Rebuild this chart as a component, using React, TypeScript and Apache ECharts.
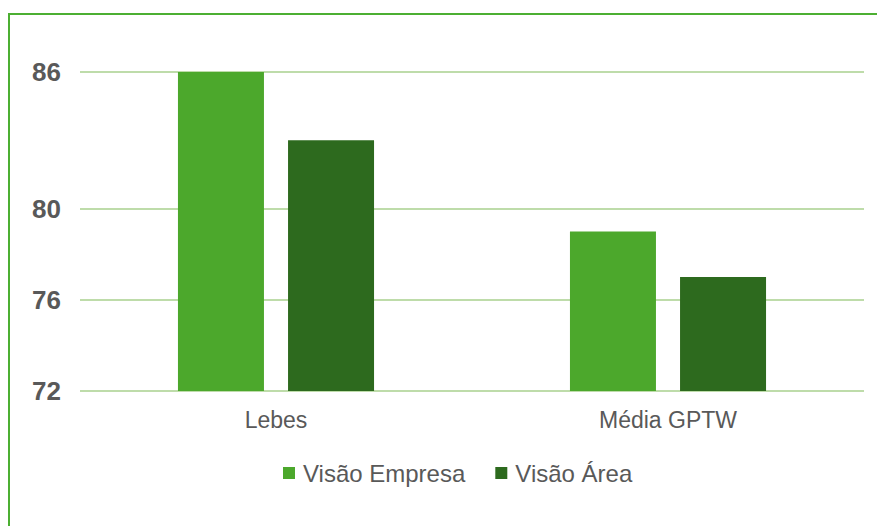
import React, { useEffect, useRef } from "react";
import * as echarts from "echarts";

const categories = ["Lebes", "Média GPTW"];
const empresaValues = [86, 79];
const areaValues = [83, 77];
const yTicks = [72, 76, 80, 86];
const seriesNames = ["Visão Empresa", "Visão Área"];

const LIGHT = "#4ca82c";
const DARK = "#2d6a1e";
const GRID = "#a9d18e";
const TEXT = "#595959";
const FONT = "'Liberation Sans', Arial, sans-serif";

export default function App() {
  const ref = useRef<HTMLDivElement>(null);
  useEffect(() => {
    if (!ref.current) return;
    const chart = echarts.init(ref.current, null, { renderer: "svg" });
    chart.setOption({
      animation: false,
      backgroundColor: "#ffffff",
      textStyle: { fontFamily: FONT },
      graphic: [
        {
          type: "rect",
          shape: { x: 9, y: 14, width: 1000, height: 1000 },
          style: { fill: "none", stroke: "#4caf32", lineWidth: 2 },
          silent: true,
          z: 0,
        },
      ],
      grid: { left: 80, right: 13, top: 72, bottom: 135, containLabel: false },
      legend: {
        data: seriesNames,
        top: 456,
        left: 278,
        itemWidth: 12,
        itemHeight: 12,
        itemGap: 30,
        icon: "rect",
        textStyle: { fontSize: 24, color: TEXT, fontFamily: FONT, padding: [0, 0, 0, 3] },
      },
      xAxis: {
        type: "category",
        data: categories,
        axisLine: { show: false },
        axisTick: { show: false },
        axisLabel: { fontSize: 23, color: TEXT, margin: 17, fontFamily: FONT },
      },
      yAxis: {
        type: "value",
        min: 72,
        max: 86,
        axisLine: { show: false },
        axisTick: { show: false },
        splitLine: { show: false },
        axisLabel: {
          customValues: yTicks,
          fontSize: 26,
          fontWeight: "bold",
          color: TEXT,
          margin: 19,
          fontFamily: FONT,
        },
      },
      series: [
        {
          name: seriesNames[0],
          type: "bar",
          data: empresaValues,
          barWidth: 86,
          barGap: "28%",
          itemStyle: { color: LIGHT },
          z: 3,
          markLine: {
            silent: true,
            symbol: "none",
            label: { show: false },
            lineStyle: { color: GRID, width: 1.5, type: "solid" },
            z: 1,
            data: yTicks.map((v) => ({ yAxis: v })),
          },
        },
        {
          name: seriesNames[1],
          type: "bar",
          data: areaValues,
          barWidth: 86,
          itemStyle: { color: DARK },
          z: 3,
        },
      ],
    });
    return () => chart.dispose();
  }, []);
  return (
    <div
      ref={ref}
      style={{ position: "absolute", left: 0, top: 0, width: 877, height: 526 }}
    />
  );
}
